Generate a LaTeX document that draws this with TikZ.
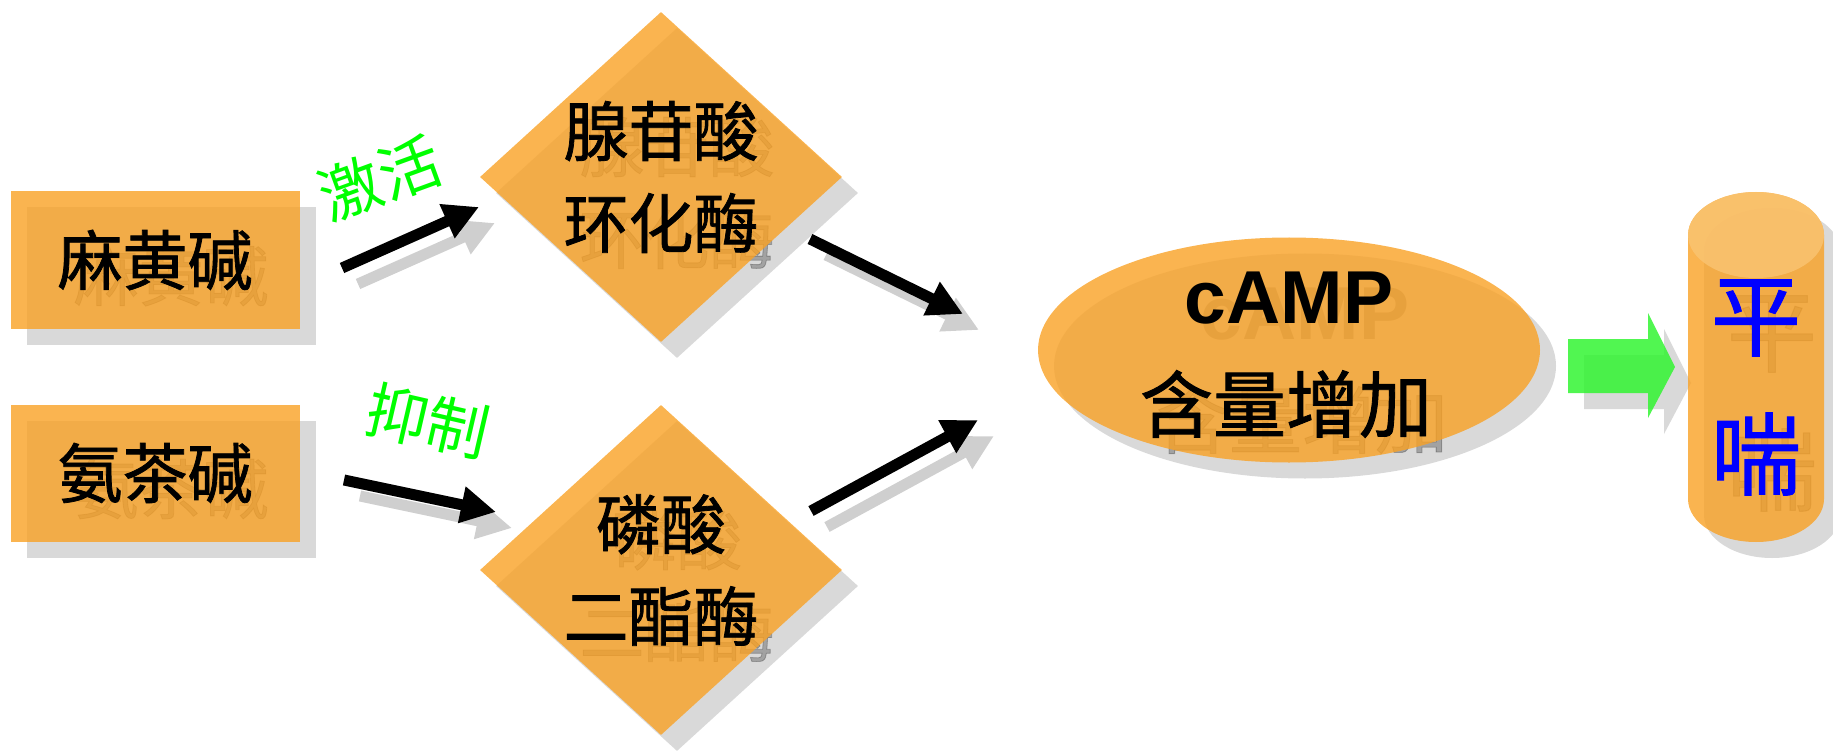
\documentclass[tikz,border=0pt]{standalone}
\usepackage{fontspec}
\setmainfont{Liberation Sans}
\newfontfamily\cjk{Noto Sans CJK SC}[FakeBold=1.2]
\newfontfamily\cjklight{Noto Sans CJK SC}
\usetikzlibrary{shapes.geometric,arrows.meta,calc}
\definecolor{orangefill}{HTML}{F9A124}
\definecolor{topface}{HTML}{FAC473}
\definecolor{shadowgray}{HTML}{D9D9D9}
\definecolor{arrowshadow}{HTML}{CFCFCF}
\definecolor{arrowgreen}{RGB}{50,245,50}
\definecolor{labelgreen}{RGB}{0,255,0}
\definecolor{textblue}{RGB}{0,0,255}
\begin{document}
\begin{tikzpicture}[x=1pt,y=-1pt,
  shapeshadow/.style={fill=shadowgray,draw=none},
  orangeshape/.style={fill=orangefill,fill opacity=0.8,draw=none},
  boxshape/.style={rectangle,minimum width=289pt,minimum height=137pt,inner sep=0pt},
  diashape/.style={diamond,minimum width=362pt,minimum height=330pt,inner sep=0pt},
  ellshape/.style={ellipse,minimum width=502pt,minimum height=225pt,inner sep=0pt},
  cjktext/.style={font=\cjk\fontsize{65}{92}\selectfont,align=center,inner sep=0pt},
  tshadow/.style={text=black,text opacity=0.25},
  blackarrow/.style={line width=11pt,draw=black,-{Triangle[length=35pt,width=35pt]}},
  grayarrow/.style={line width=11pt,draw=arrowshadow,-{Triangle[length=35pt,width=35pt,fill=arrowshadow]}},
  glabel/.style={font=\cjklight\fontsize{62}{66}\selectfont,text=labelgreen,inner sep=0pt}
]
\useasboundingbox (0,0) rectangle (1833,751);

% centres
\coordinate (cb1) at (155,260);
\coordinate (cb2) at (155,473);
\coordinate (cd1) at (661,177);
\coordinate (cd2) at (661,570);
\coordinate (ce) at (1289,350);

% ---------- shape shadows ----------
\node[boxshape,shapeshadow] (b1s) at ($(cb1)+(16,16)$) {};
\node[boxshape,shapeshadow] (b2s) at ($(cb2)+(16,16)$) {};
\node[diashape,shapeshadow] (d1s) at ($(cd1)+(16,16)$) {};
\node[diashape,shapeshadow] (d2s) at ($(cd2)+(16,16)$) {};
\node[ellshape,shapeshadow] (es) at ($(ce)+(16,16)$) {};
\begin{scope}[shift={(16,16)}]
  \fill[shadowgray] (1688,235) -- (1688,499) arc[start angle=180,end angle=360,x radius=68pt,y radius=43pt] -- (1824,235) arc[start angle=0,end angle=180,x radius=68pt,y radius=43pt] -- cycle;
  \fill[shadowgray] (1568,339) -- (1648,339) -- (1648,313) -- (1675,367) -- (1648,418) -- (1648,393) -- (1568,393) -- cycle;
\end{scope}

% ---------- text shadows ----------
\node[cjktext,tshadow] (t1s) at ($(cb1)+(16,16)$) {麻黄碱};
\node[cjktext,tshadow] (t2s) at ($(cb2)+(16,16)$) {氨茶碱};
\node[cjktext,tshadow] (t3s) at ($(cd1)+(16,16)$) {腺苷酸\\环化酶};
\node[cjktext,tshadow] (t4s) at ($(cd2)+(16,16)$) {磷酸\\二酯酶};
\node[tshadow,font=\bfseries\fontsize{75}{80}\selectfont,inner sep=0pt] (t5s) at (1305,314) {cAMP};
\node[cjktext,tshadow,font=\cjk\fontsize{73}{80}\selectfont] (t6s) at (1302,420) {含量增加};
\node[cjktext,tshadow,font=\cjk\fontsize{90}{96}\selectfont] (t7s) at (1772,334) {平};
\node[cjktext,tshadow,font=\cjk\fontsize{90}{96}\selectfont] (t8s) at (1772,470) {喘};

% ---------- orange shapes ----------
\node[boxshape,orangeshape] (box1) at (cb1) {};
\node[boxshape,orangeshape] (box2) at (cb2) {};
\node[diashape,orangeshape] (d1) at (cd1) {};
\node[diashape,orangeshape] (d2) at (cd2) {};
\node[ellshape,orangeshape] (camp) at (ce) {};
\fill[orangefill,fill opacity=0.8] (1688,235) -- (1688,499) arc[start angle=180,end angle=360,x radius=68pt,y radius=43pt] -- (1824,235) arc[start angle=0,end angle=180,x radius=68pt,y radius=43pt] -- cycle;
\fill[topface,fill opacity=0.8] (1756,235) ellipse[x radius=68pt,y radius=43pt];
\coordinate (cyl) at (1756,367);

% ---------- green block arrow ----------
\fill[arrowgreen,fill opacity=0.85] (1568,339) -- (1648,339) -- (1648,313) -- (1675,367) -- (1648,418) -- (1648,393) -- (1568,393) -- cycle;

% ---------- main texts ----------
\node[cjktext] (t1) at (cb1) {麻黄碱};
\node[cjktext] (t2) at (cb2) {氨茶碱};
\node[cjktext] (t3) at (cd1) {腺苷酸\\环化酶};
\node[cjktext] (t4) at (cd2) {磷酸\\二酯酶};
\node[font=\bfseries\fontsize{75}{80}\selectfont,inner sep=0pt] (t5) at (1289,298) {cAMP};
\node[cjktext,font=\cjk\fontsize{73}{80}\selectfont] (t6) at (1286,404) {含量增加};
\node[cjktext,font=\cjk\fontsize{90}{96}\selectfont,text=textblue] (t7) at (1756,318) {平};
\node[cjktext,font=\cjk\fontsize{90}{96}\selectfont,text=textblue] (t8) at (1756,454) {喘};

% ---------- green labels ----------
\node[glabel,rotate=20] (lab1) at (380,178) {激活};
\node[glabel,rotate=-13] (lab2) at (428,421) {抑制};

% ---------- connector end points ----------
\coordinate (a1s) at (342,268);
\coordinate (a1e) at (479,207);
\coordinate (a2s) at (344,480);
\coordinate (a2e) at (496,512);
\coordinate (a3s) at (810,239);
\coordinate (a3e) at (963,314);
\coordinate (a4s) at (811,511);
\coordinate (a4e) at (978,420);

% ---------- arrow shadows ----------
\begin{scope}[transform canvas={shift={(16pt,-16pt)}}]
  \draw[grayarrow] (a1s) -- (a1e);
  \draw[grayarrow] (a2s) -- (a2e);
  \draw[grayarrow] (a3s) -- (a3e);
  \draw[grayarrow] (a4s) -- (a4e);
\end{scope}

% ---------- arrows ----------
\draw[blackarrow] (a1s) -- (a1e);
\draw[blackarrow] (a2s) -- (a2e);
\draw[blackarrow] (a3s) -- (a3e);
\draw[blackarrow] (a4s) -- (a4e);
\end{tikzpicture}
\end{document}
